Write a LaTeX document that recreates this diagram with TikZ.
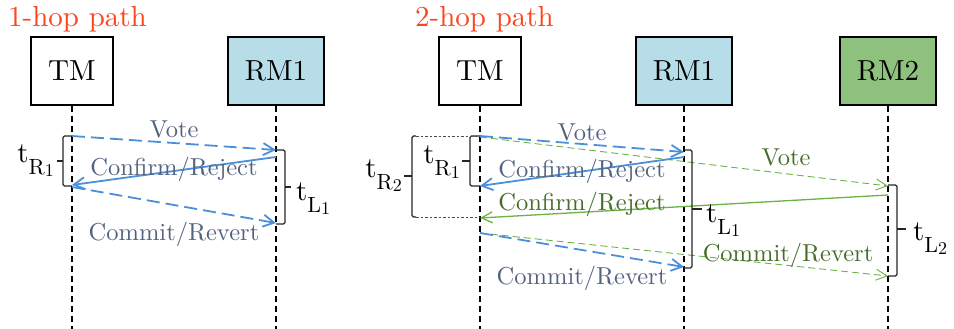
\documentclass[tikz,border=0pt]{standalone}
\usepackage{fontspec}
\setmainfont{lmroman10-regular.otf}
\usetikzlibrary{arrows.meta}

\definecolor{rmone}{RGB}{183,221,232}
\definecolor{rmtwo}{RGB}{141,193,125}
\definecolor{msgblue}{RGB}{74,144,217}
\definecolor{msggreen}{RGB}{108,178,68}
\definecolor{lblblue}{RGB}{82,98,128}
\definecolor{lblgreen}{RGB}{70,108,42}
\definecolor{titlered}{RGB}{252,68,30}

% time symbol with a two-level upright subscript, e.g. \tsym{R}{1}
\newcommand\tsym[2]{t\raisebox{-12pt}{\fontsize{22}{22}\selectfont #1\raisebox{-2pt}{\fontsize{18}{18}\selectfont #2}}}

\tikzset{
  big/.style={font=\fontsize{29}{34}\selectfont},
  box/.style={draw, line width=1.5pt, minimum height=68pt, inner xsep=17pt, inner ysep=0pt, big},
  lifeline/.style={line width=1.8pt, dash pattern=on 6pt off 4pt},
  tipb/.style={-{Straight Barb[length=11pt,width=12pt]}},
  tipg/.style={-{Straight Barb[length=11pt,width=11pt]}},
  bluedash/.style={msgblue, line width=1.8pt, dash pattern=on 13pt off 6pt, tipb},
  bluesolid/.style={msgblue, line width=1.8pt, tipb},
  greendash/.style={msggreen, line width=0.9pt, dash pattern=on 7pt off 4pt, tipg},
  greensolid/.style={msggreen, line width=1.3pt, tipg},
  lbl/.style={font=\fontsize{24.5}{29}\selectfont, inner sep=0pt, anchor=base},
  bracket/.style={line width=1.2pt, black!85, rounded corners=1.5pt},
  tick/.style={line width=1.2pt, black!85},
  faint/.style={line width=0.8pt, black!70, dash pattern=on 2.5pt off 2pt},
  tlbl/.style={big, inner sep=0pt},
  title/.style={big, text=titlered, inner sep=0pt, anchor=base west},
}

\begin{document}
\begin{tikzpicture}[x=1pt,y=-1pt]
\useasboundingbox (0,0) rectangle (954,329);

% ---------- 1-hop path ----------
\node[title] (ttlA) at (8,27) {1-hop path};
\node[box] (tmA) at (72,71) {TM};
\node[box, fill=rmone] (rmA) at (276,71) {RM1};
\coordinate (tmAbot) at (72,329);
\coordinate (rmAbot) at (276,329);
\draw[lifeline] (tmA.south) -- (tmAbot);
\draw[lifeline] (rmA.south) -- (rmAbot);

\coordinate (a1) at (72,136);
\coordinate (a2) at (276,150);
\coordinate (a3) at (276,157);
\coordinate (a4) at (72,185);
\coordinate (a5) at (72,187);
\coordinate (a6) at (276,223);

\draw[bluedash] (a1) -- node[lbl, text=lblblue, pos=0.5, yshift=5pt] (voteA) {Vote} (a2);
\draw[bluesolid] (a3) -- node[lbl, text=lblblue, pos=0.5, yshift=-4pt] (crA) {Confirm/Reject} (a4);
\draw[bluedash] (a5) -- node[lbl, text=lblblue, pos=0.5, yshift=-35pt] (cmA) {Commit/Revert} (a6);

% timing brackets
\draw[bracket] (72,136) -- (63,136) -- (63,186) -- (72,186);
\draw[tick] (63,161) -- (57,161);
\node[tlbl, anchor=base east] (trA) at (54,162) {\tsym{R}{1}};

\draw[bracket] (276,150) -- (285,150) -- (285,224) -- (276,224);
\draw[tick] (285,187) -- (291,187);
\node[tlbl, anchor=base west] (tlA) at (296,200) {\tsym{L}{1}};

% ---------- 2-hop path ----------
\node[title] (ttlB) at (415,27) {2-hop path};
\node[box] (tmB) at (480,71) {TM};
\node[box, fill=rmone] (rmB) at (684,71) {RM1};
\node[box, fill=rmtwo] (rmC) at (888,71) {RM2};
\coordinate (tmBbot) at (480,329);
\coordinate (rmBbot) at (684,329);
\coordinate (rmCbot) at (888,329);
\draw[lifeline] (tmB.south) -- (tmBbot);
\draw[lifeline] (rmB.south) -- (rmBbot);
\draw[lifeline] (rmC.south) -- (rmCbot);

\coordinate (b1) at (480,136);
\coordinate (b2) at (684,152);
\coordinate (b3) at (684,157);
\coordinate (b4) at (480,186);
\coordinate (b5) at (480,233);
\coordinate (b6) at (684,267);
\coordinate (g1) at (480,137);
\coordinate (g2) at (888,186);
\coordinate (g3) at (888,195);
\coordinate (g4) at (480,218);
\coordinate (g6) at (888,276);

\draw[greendash] (g1) -- node[lbl, text=lblgreen, pos=0.75, yshift=8pt] (voteC) {Vote} (g2);
\draw[greensolid] (g3) -- node[lbl, text=lblgreen, pos=0.75, yshift=2pt] (crC) {Confirm/Reject} (g4);
\draw[greendash] (b5) -- node[lbl, text=lblgreen, pos=0.755, yshift=3.5pt] (cmC) {Commit/Revert} (g6);

\draw[bluedash] (b1) -- node[lbl, text=lblblue, pos=0.5, yshift=4pt] (voteB) {Vote} (b2);
\draw[bluesolid] (b3) -- node[lbl, text=lblblue, pos=0.5, yshift=-5.5pt] (crB) {Confirm/Reject} (b4);
\draw[bluedash] (b5) -- node[lbl, text=lblblue, pos=0.5, yshift=-34pt] (cmB) {Commit/Revert} (b6);

% timing brackets
\draw[bracket] (480,136) -- (470,136) -- (470,186) -- (480,186);
\draw[tick] (470,161) -- (462,161);
\node[tlbl, anchor=base east] (trB) at (460,164) {\tsym{R}{1}};

\draw[bracket] (416,136) -- (412,136) -- (412,217) -- (416,217);
\draw[faint] (416,136) -- (480,136);
\draw[faint] (416,217) -- (480,217);
\draw[tick] (412,176) -- (404,176);
\node[tlbl, anchor=base east] (trC) at (402,177) {\tsym{R}{2}};

\draw[bracket] (684,150) -- (692,150) -- (692,268) -- (684,268);
\draw[tick] (692,209) -- (702,209);
\node[tlbl, anchor=base west] (tlB) at (706,222) {\tsym{L}{1}};

\draw[bracket] (888,185) -- (897,185) -- (897,276) -- (888,276);
\draw[tick] (897,229) -- (906,229);
\node[tlbl, anchor=base west] (tlC) at (913,240) {\tsym{L}{2}};
\end{tikzpicture}
\end{document}
